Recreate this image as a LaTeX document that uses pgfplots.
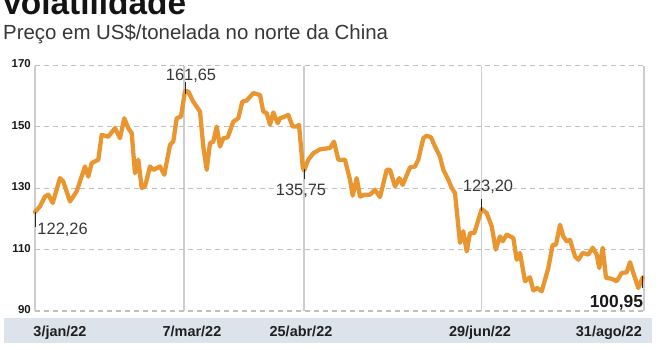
\documentclass[border=0pt]{standalone}
\usepackage{pgfplots}
\pgfplotsset{compat=1.18}
\usepackage{fontspec}
\setmainfont{Liberation Sans}
\definecolor{linecol}{RGB}{233,150,48}
\definecolor{bandcol}{RGB}{220,227,235}
\definecolor{txtcol}{RGB}{55,55,55}
\definecolor{gridcol}{RGB}{192,192,192}
\definecolor{vgridcol}{RGB}{205,205,205}
\begin{document}
\begin{tikzpicture}
\useasboundingbox (-35bp,-39bp) rectangle (626bp,311bp);
\fill[bandcol] (-31bp,-32.3bp) rectangle (616.7bp,-7.3bp);
\node[anchor=base west, inner sep=0pt, font=\fontsize{33.5}{33.5}\selectfont\bfseries, text=black!92] at (-34bp,296bp) {Volatilidade};
\node[anchor=base west, inner sep=0pt, font=\fontsize{20.5}{24}\selectfont, text=txtcol] at (-32bp,271.5bp) {Preço em US\$/tonelada no norte da China};
\begin{axis}[scale only axis,
  width=609bp, height=245.5bp,
  xmin=0, xmax=609, ymin=90, ymax=170,
  axis line style={draw=none},
  major tick length=0pt,
  xtick={0,149,269,446.7,609}, xticklabels={},
  ytick={90,110,130,150,170},
  xmajorgrids, ymajorgrids,
  x grid style={color=vgridcol, line width=1.2bp},
  y grid style={color=gridcol, line width=1.1bp, dash pattern=on 5bp off 4bp},
  /pgf/number format/assume math mode=true,
  yticklabel style={font=\fontsize{11.5}{11.5}\selectfont\bfseries, text=black!90, inner sep=0pt, xshift=-4bp, yshift=1.5bp},
  clip=false]
\addplot[color=linecol, line width=4.3bp, line join=round, line cap=round] coordinates {
(0,122.26) (5,124.1) (10,127.3) (13.3,127.9) (17.7,125.2) (25,133.3) (28.3,132.2)
(35,125.7) (41.7,129.0) (50,137.1) (53.3,133.8) (56.7,138.2) (63.3,139.3) (66.7,147.4)
(73.3,146.8) (80,149.6) (85,146.3) (89.3,152.8) (93.3,149.6) (96.7,148.0) (100,134.9)
(103.3,139.3) (106.7,130.1) (110,130.6) (115,137.1) (118.3,136.0) (125,137.1) (129.3,134.4)
(135,144.1) (138.3,145.2) (141.7,152.8) (146,153.4) (150,161.65) (153.3,161.5) (158.3,158.2)
(165,155.0) (168.3,143.6) (171.7,136.0) (175,144.7) (178.3,145.2) (181.7,150.1) (185,143.6)
(188.3,146.3) (192.7,146.6) (198.3,151.7) (203.3,152.8) (207.3,158.2) (211.7,158.6)
(218.3,161.0) (225,160.4) (228.3,155.0) (231.7,154.5) (235,150.7) (238.3,154.7) (242.7,151.2)
(245,152.8) (250,153.4) (253.3,153.9) (257.7,150.1) (261.7,150.1) (264,150.7) (267.7,137.1)
(269,135.75) (273.3,139.3) (278.3,141.4) (285,142.7) (295,143.1) (299,145.2) (303.3,139.3)
(310,139.3) (315,132.8) (317.7,127.6) (321.7,133.3) (325,127.3) (330,127.9) (335,127.9)
(340,129.5) (345,127.1) (351.7,136.0) (355,136.0) (360,130.6) (364.3,133.3) (367.7,131.1)
(375,136.8) (380,137.1) (383.3,139.3) (388.3,146.3) (391.7,147.1) (396,146.6) (400,143.6)
(405,140.3) (408.3,136.0) (413.3,132.8) (416.7,130.1) (420,128.4) (425,112.2) (428.3,116.0)
(431.7,109.4) (435,115.4) (439.3,115.4) (446.7,123.2) (451.7,121.9) (456.7,117.6) (460.7,110.0)
(465,114.3) (467.7,112.7) (471.7,114.9) (478.3,113.8) (481.7,106.7) (485,108.9) (490,99.7)
(495,101.0) (498.3,96.7) (502.3,97.5) (506.7,96.4) (513.3,104.0) (517.7,111.6) (521,111.6)
(525,118.1) (528.3,114.3) (531.7,112.7) (535,113.2) (540,107.8) (543.3,106.7) (547.7,108.9)
(553.3,108.4) (557.7,110.6) (561.7,108.4) (564.3,104.0) (567.7,110.6) (571,100.8) (576.7,100.5)
(581.7,99.7) (586.7,102.4) (591.7,102.6) (595,105.9) (598.3,102.4) (603.3,97.5) (607.7,100.95)
};
\draw[black!85, line width=1bp] (axis cs:0,122.26) -- ++(0bp,-15bp);
\draw[black!85, line width=1bp] (axis cs:150,161.65) ++(0bp,-3bp) -- ++(0bp,12bp);
\draw[black!85, line width=1bp] (axis cs:269,135.75) ++(0bp,2bp) -- ++(0bp,-10bp);
\draw[black!85, line width=1bp] (axis cs:446.7,123.2) ++(0bp,-2bp) -- ++(0bp,12bp);
\draw[black!85, line width=1bp] (axis cs:607.7,100.95) ++(0bp,1bp) -- ++(0bp,-12bp);
\node[anchor=west, inner sep=0pt, font=\fontsize{16.5}{16.5}\selectfont, text=txtcol] at (axis cs:2.3,116.5) {122,26};
\node[anchor=center, inner sep=0pt, font=\fontsize{16.5}{16.5}\selectfont, text=txtcol] at (axis cs:156,166.5) {161,65};
\node[anchor=center, inner sep=0pt, font=\fontsize{16.5}{16.5}\selectfont, text=txtcol] at (axis cs:266,129.2) {135,75};
\node[anchor=center, inner sep=0pt, font=\fontsize{16.5}{16.5}\selectfont, text=txtcol] at (axis cs:453,130.6) {123,20};
\node[anchor=east, inner sep=0pt, font=\fontsize{17.5}{17.5}\selectfont\bfseries, text=black!90] at (axis cs:608.3,92.8) {100,95};
\end{axis}
\node[anchor=base west, inner sep=0pt, font=\fontsize{14.5}{14.5}\selectfont\bfseries, text=black!88] at (-1.7bp,-25.7bp) {3/jan/22};
\node[anchor=base, inner sep=0pt, font=\fontsize{14.5}{14.5}\selectfont\bfseries, text=black!88] at (157bp,-25.7bp) {7/mar/22};
\node[anchor=base, inner sep=0pt, font=\fontsize{14.5}{14.5}\selectfont\bfseries, text=black!88] at (266bp,-25.7bp) {25/abr/22};
\node[anchor=base, inner sep=0pt, font=\fontsize{14.5}{14.5}\selectfont\bfseries, text=black!88] at (445bp,-25.7bp) {29/jun/22};
\node[anchor=base east, inner sep=0pt, font=\fontsize{14.5}{14.5}\selectfont\bfseries, text=black!88] at (607bp,-25.7bp) {31/ago/22};
\end{tikzpicture}
\end{document}
